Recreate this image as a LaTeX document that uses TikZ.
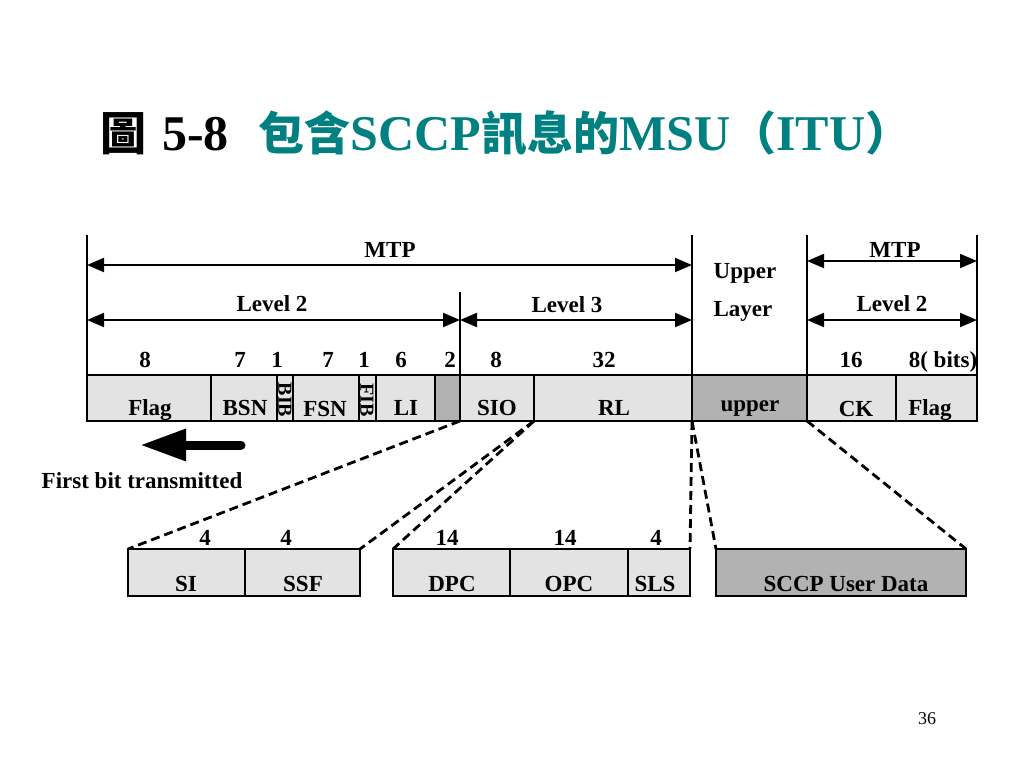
\documentclass[tikz,border=0pt]{standalone}
\usepackage{fontspec}
\setmainfont{Liberation Serif}
\newfontfamily\cjk{Noto Sans CJK TC}
\usetikzlibrary{arrows.meta}
\definecolor{titleteal}{RGB}{0,128,128}
\definecolor{lightfield}{RGB}{227,227,227}
\definecolor{darkfield}{RGB}{178,178,178}
\newcommand{\cjkt}[1]{{\cjk\bfseries\fontsize{46}{50}\selectfont #1}}
\begin{document}
\begin{tikzpicture}[x=1pt,y=-1pt,
  field/.style={draw=black, line width=2pt, fill=lightfield, inner sep=0pt, outer sep=0pt, anchor=north west, minimum height=46pt},
  dfield/.style={field, fill=darkfield},
  lbl/.style={font=\bfseries\fontsize{23}{25}\selectfont, inner sep=0pt, anchor=base},
  vbar/.style={line width=2pt},
  dimarrow/.style={line width=2pt, {Triangle[length=17pt,width=14pt]}-{Triangle[length=17pt,width=14pt]}},
  zoomline/.style={line width=2.8pt, dash pattern=on 9pt off 5pt},
  tiny/.style={font=\bfseries\fontsize{20}{22}\selectfont, inner sep=0pt, rotate=-90}
]
\useasboundingbox (0,0) rectangle (1024,768);
\fill[white] (0,0) rectangle (1024,768);

% title
\node[anchor=base west, inner sep=0pt, font=\bfseries\fontsize{50}{54}\selectfont] (title) at (100,150)
  {\cjkt{圖}\hspace{16pt}5-8\hspace{30pt}\textcolor{titleteal}{\cjkt{包含}SCCP\cjkt{訊息的}MSU\cjkt{（}ITU\cjkt{）}}};

% lower fields
\node[field, minimum width=117pt, minimum height=47pt] (si) at (128,549) {};
\node[field, minimum width=115pt, minimum height=47pt] (ssf) at (245,549) {};
\node[field, minimum width=117pt, minimum height=47pt] (dpc) at (393,549) {};
\node[field, minimum width=118pt, minimum height=47pt] (opc) at (510,549) {};
\node[field, minimum width=62pt, minimum height=47pt] (sls) at (628,549) {};
\node[dfield, minimum width=250pt, minimum height=47pt] (ud) at (716,549) {};

% top fields
\node[field, minimum width=124pt] (flagA) at (87,375) {};
\node[field, minimum width=66pt] (bsn) at (211,375) {};
\node[field, minimum width=16pt] (bib) at (277,375) {};
\node[field, minimum width=66pt] (fsn) at (293,375) {};
\node[field, minimum width=17pt] (fib) at (359,375) {};
\node[field, minimum width=59pt] (li) at (376,375) {};
\node[dfield, minimum width=25pt] (spare) at (435,375) {};
\node[field, minimum width=74pt] (sio) at (460,375) {};
\node[field, minimum width=158pt] (rl) at (534,375) {};
\node[dfield, minimum width=115pt] (upper) at (692,375) {};
\node[field, minimum width=89pt] (ck) at (807,375) {};
\node[field, minimum width=81pt] (flagB) at (896,375) {};

% dashed expansion lines
\draw[zoomline] (sio.south west) -- (si.north west);
\draw[zoomline] (sio.south east) -- (ssf.north east);
\draw[zoomline] (sio.south east) -- (dpc.north west);
\draw[zoomline] (rl.south east) -- (sls.north east);
\draw[zoomline] (upper.south west) -- (ud.north west);
\draw[zoomline] (upper.south east) -- (ud.north east);

% field labels
\node[lbl] (lflagA) at (150,415) {Flag};
\node[lbl] (lbsn) at (245,415) {BSN};
\node[tiny] (lbib) at (285,400) {BIB};
\node[lbl] (lfsn) at (325,416) {FSN};
\node[tiny] (lfib) at (367,400) {FIB};
\node[lbl] (lli) at (406,415) {LI};
\node[lbl] (lsio) at (497,415) {SIO};
\node[lbl] (lrl) at (614,415) {RL};
\node[lbl] (lupper) at (750,411) {upper};
\node[lbl] (lck) at (856,416) {CK};
\node[lbl] (lflagB) at (930,415) {Flag};

% bit counts
\node[lbl] (n1) at (145,367) {8};
\node[lbl] (n2) at (240,367) {7};
\node[lbl] (n3) at (277,367) {1};
\node[lbl] (n4) at (328,367) {7};
\node[lbl] (n5) at (364,367) {1};
\node[lbl] (n6) at (401,367) {6};
\node[lbl] (n7) at (450,367) {2};
\node[lbl] (n8) at (496,367) {8};
\node[lbl] (n9) at (604,367) {32};
\node[lbl] (n10) at (851,367) {16};
\node[lbl] (n11) at (943,367) {8( bits)};

% vertical bars
\coordinate (vA) at (87,235);
\coordinate (vB) at (460,292);
\coordinate (vC) at (692,235);
\coordinate (vD) at (807,235);
\coordinate (vE) at (977,235);
\draw[vbar] (vA) -- (flagA.north west);
\draw[vbar] (vB) -- (sio.north west);
\draw[vbar] (vC) -- (upper.north west);
\draw[vbar] (vD) -- (ck.north west);
\draw[vbar] (vE) -- (flagB.north east);

% dimension arrows
\coordinate (mtpL) at (87,265);
\coordinate (mtpR) at (692,265);
\coordinate (l2L) at (87,320);
\coordinate (l2R) at (460,320);
\coordinate (l3R) at (692,320);
\coordinate (rmL) at (807,261);
\coordinate (rmR) at (977,261);
\coordinate (r2L) at (807,320);
\coordinate (r2R) at (977,320);
\draw[dimarrow] (mtpL) -- (mtpR);
\draw[dimarrow] (l2L) -- (l2R);
\draw[dimarrow] (l2R) -- (l3R);
\draw[dimarrow] (rmL) -- (rmR);
\draw[dimarrow] (r2L) -- (r2R);

\node[lbl] (tmtp) at (390,257) {MTP};
\node[lbl] (tl2) at (272,311) {Level 2};
\node[lbl] (tl3) at (567,312) {Level 3};
\node[lbl] (tupper) at (745,278) {Upper};
\node[lbl] (tlayer) at (743,316) {Layer};
\node[lbl] (tmtp2) at (895,257) {MTP};
\node[lbl] (tl2b) at (892,311) {Level 2};

% first bit transmitted arrow
\coordinate (fbtR) at (241,445);
\coordinate (fbtL) at (140,445);
\draw[line width=9pt, line cap=round, -{Triangle[length=46pt,width=30pt]}] (fbtR) -- (fbtL);
\node[lbl] (tfbt) at (142,488) {First bit transmitted};

% lower field labels and counts
\node[lbl] (lsi) at (186,591) {SI};
\node[lbl] (lssf) at (303,591) {SSF};
\node[lbl] (ldpc) at (452,591) {DPC};
\node[lbl] (lopc) at (569,591) {OPC};
\node[lbl] (lsls) at (655,591) {SLS};
\node[lbl] (lud) at (846,591) {SCCP User Data};
\node[lbl] (b1) at (205,545) {4};
\node[lbl] (b2) at (286,545) {4};
\node[lbl] (b3) at (447,545) {14};
\node[lbl] (b4) at (565,545) {14};
\node[lbl] (b5) at (656,545) {4};

\node[anchor=base, inner sep=0pt, font=\fontsize{18}{20}\selectfont] (pg) at (927,724) {36};
\end{tikzpicture}
\end{document}
